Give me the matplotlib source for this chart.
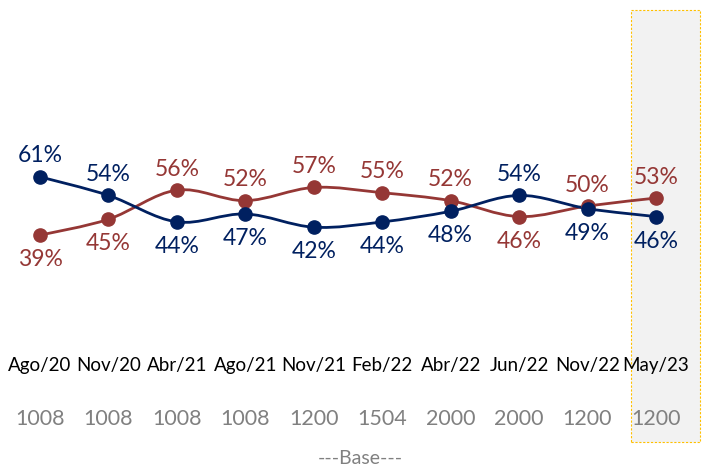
import numpy as np
import matplotlib
matplotlib.use("Agg")
import matplotlib.pyplot as plt
from matplotlib.path import Path
from matplotlib.patches import PathPatch, Rectangle

# Dados do gráfico
periodos = ["Ago/20", "Nov/20", "Abr/21", "Ago/21", "Nov/21", "Feb/22", "Abr/22", "Jun/22", "Nov/22", "May/23"]
serie_azul = [61, 54, 44, 47, 42, 44, 48, 54, 49, 46]
serie_vermelha = [39, 45, 56, 52, 57, 55, 52, 46, 50, 53]
bases = [1008, 1008, 1008, 1008, 1200, 1504, 2000, 2000, 1200, 1200]

# Posição do rótulo: True = acima do ponto
azul_acima = [True, True, False, False, False, False, False, True, False, False]
vermelha_acima = [False, False, True, True, True, True, True, False, True, True]

azul = "#002060"
vermelho = "#953735"
cinza = "#808080"
fonte = "Lato"


def curva_suave(xs, ys):
    # Curva suavizada (Catmull-Rom convertida em Bezier), parecida com a do Excel
    pts = np.column_stack([xs, ys]).astype(float)
    n = len(pts)
    verts = [pts[0]]
    codes = [Path.MOVETO]
    for i in range(n - 1):
        p0 = pts[i - 1] if i > 0 else pts[i]
        p1 = pts[i]
        p2 = pts[i + 1]
        p3 = pts[i + 2] if i + 2 < n else pts[i + 1]
        c1 = p1 + (p2 - p0) / 6
        c2 = p2 - (p3 - p1) / 6
        verts += [c1, c2, p2]
        codes += [Path.CURVE4] * 3
    return Path(verts, codes)


fig = plt.figure(figsize=(7.05, 4.69), dpi=100)
ax = fig.add_axes([0, 0, 1, 1])
ax.set_xlim(-0.584, 9.716)
ax.set_ylim(-49.2, 127.7)
ax.axis("off")

x = np.arange(len(periodos))

# Destaque da última coluna
ax.add_patch(Rectangle((8.635, -39.1), 1.008, 163.1, facecolor="#F2F2F2",
                       edgecolor="#FFC000", linestyle=(0, (2, 1.5)), linewidth=0.8, zorder=0))

for valores, cor, acima in [(serie_vermelha, vermelho, vermelha_acima), (serie_azul, azul, azul_acima)]:
    ax.add_patch(PathPatch(curva_suave(x, valores), facecolor="none", edgecolor=cor, linewidth=2, zorder=2))
    ax.plot(x, valores, "o", color=cor, markersize=9.5, zorder=3)
    for xi, v, up in zip(x, valores, acima):
        dy = 7.9 if up else -9.3
        ax.text(xi, v + dy, f"{v}%", color=cor, fontsize=16.5, ha="center", va="center",
                family=fonte)

# Rótulos das categorias e bases
for xi, p, b in zip(x, periodos, bases):
    ax.text(xi, -10.0, p, color="black", fontsize=13.5, ha="center", va="center", family=fonte)
    ax.text(xi, -30.4, str(b), color=cinza, fontsize=15.5, ha="center", va="center", family=fonte)

ax.text(4.68, -45.1, "---Base---", color=cinza, fontsize=14, ha="center", va="center", family=fonte)

plt.savefig("out.png", dpi=100)
